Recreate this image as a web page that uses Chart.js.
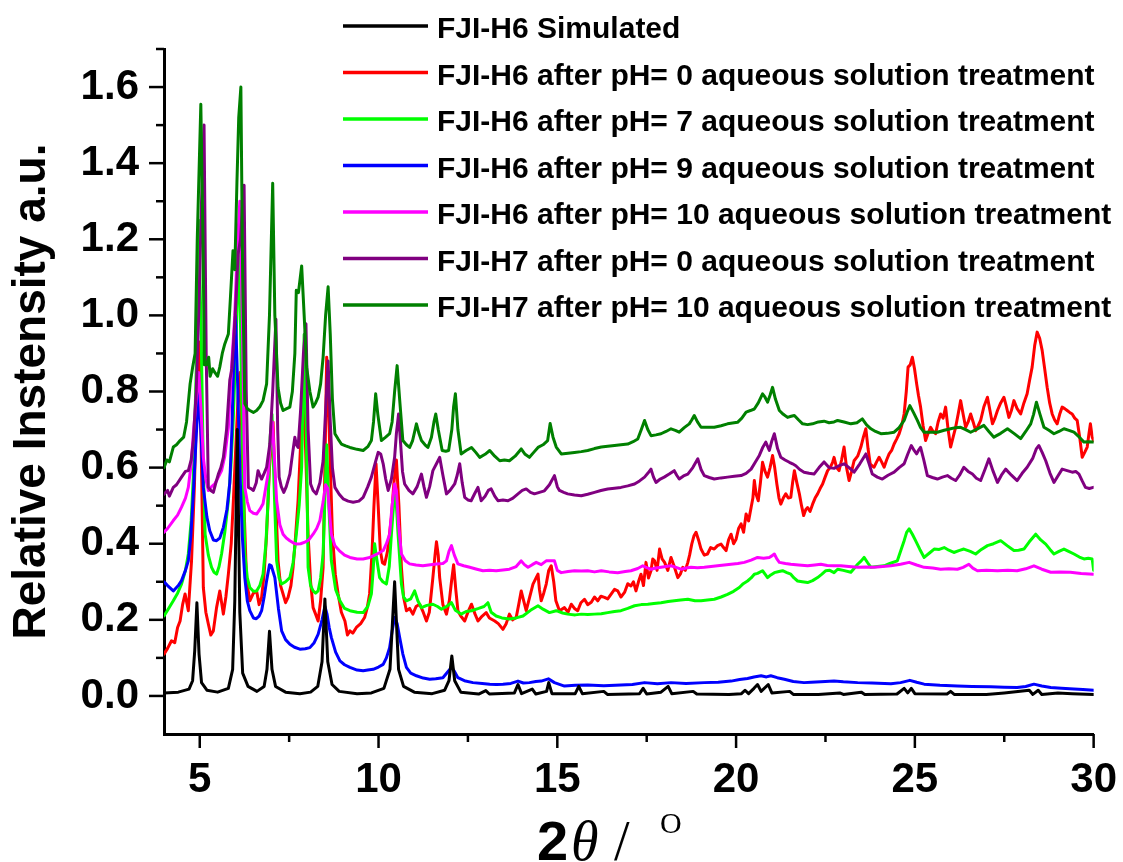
<!DOCTYPE html>
<html><head><meta charset="utf-8">
<script src="https://cdn.jsdelivr.net/npm/chart.js@4/dist/chart.umd.min.js"></script>
<style>html,body{margin:0;padding:0;background:#fff;}#wrap{width:1123px;height:862px;}</style>
</head><body><div id="wrap"><canvas id="c" width="1123" height="862"></canvas></div>
<script>
// ---------- DATA ----------
const seriesLabels = [
  "FJI-H6 Simulated",
  "FJI-H6 after pH= 0 aqueous solution treatment",
  "FJI-H6 after pH= 7 aqueous solution treatment",
  "FJI-H6 after pH= 9 aqueous solution treatment",
  "FJI-H6 after pH= 10 aqueous solution treatment",
  "FJI-H7 after pH= 0 aqueous solution treatment",
  "FJI-H7 after pH= 10 aqueous solution treatment"
];
const xMajorTicks = [5, 10, 15, 20, 25, 30];
const xMinorTicks = [7.5, 12.5, 17.5, 22.5, 27.5];
const yMajorTicks = [0.0, 0.2, 0.4, 0.6, 0.8, 1.0, 1.2, 1.4, 1.6];
const yMinorTicks = [0.1, 0.3, 0.5, 0.7, 0.9, 1.1, 1.3, 1.5, 1.7];

const simulatedH6 = [[4.0,0.008],[4.4,0.01],[4.7,0.018],[4.8,0.04],[4.86,0.12],[4.92,0.245],[4.98,0.11],[5.05,0.035],[5.2,0.015],[5.5,0.01],[5.8,0.02],[5.92,0.07],[5.98,0.25],[6.05,0.7],[6.12,0.22],[6.2,0.06],[6.35,0.025],[6.6,0.012],[6.8,0.025],[6.88,0.07],[6.95,0.17],[7.02,0.07],[7.12,0.025],[7.4,0.01],[7.8,0.006],[8.1,0.01],[8.3,0.025],[8.42,0.09],[8.5,0.255],[8.58,0.09],[8.7,0.03],[8.9,0.012],[9.4,0.006],[9.8,0.008],[10.15,0.02],[10.32,0.07],[10.45,0.3],[10.56,0.07],[10.7,0.025],[11.0,0.01],[11.5,0.006],[11.85,0.015],[11.97,0.04],[12.05,0.105],[12.13,0.04],[12.3,0.01],[12.8,0.005],[13.0,0.014],[13.1,0.005],[13.8,0.008],[13.9,0.03],[14.0,0.006],[14.3,0.018],[14.4,0.005],[14.7,0.012],[14.76,0.035],[14.85,0.006],[15.5,0.006],[15.6,0.025],[15.7,0.006],[16.3,0.012],[16.4,0.004],[17.3,0.006],[17.4,0.02],[17.5,0.005],[17.9,0.01],[18.1,0.025],[18.2,0.006],[18.8,0.012],[18.9,0.005],[19.8,0.004],[20.15,0.006],[20.25,0.015],[20.35,0.006],[20.5,0.02],[20.6,0.03],[20.7,0.012],[20.9,0.03],[21.0,0.008],[21.5,0.012],[21.6,0.004],[22.3,0.004],[22.9,0.008],[23.0,0.004],[23.5,0.01],[23.6,0.004],[24.5,0.005],[24.7,0.02],[24.8,0.008],[24.9,0.02],[25.0,0.006],[25.9,0.005],[26.0,0.012],[26.1,0.004],[27.0,0.004],[27.5,0.008],[28.2,0.015],[28.3,0.004],[28.45,0.015],[28.55,0.004],[29.0,0.008],[29.4,0.006],[30.0,0.004]];

const ph0H6 = [[4.0,0.11],[4.1,0.125],[4.21,0.145],[4.3,0.14],[4.38,0.18],[4.45,0.197],[4.52,0.24],[4.59,0.268],[4.68,0.224],[4.77,0.355],[4.85,0.55],[4.92,0.8],[4.99,0.93],[5.05,0.6],[5.1,0.285],[5.17,0.22],[5.24,0.189],[5.31,0.16],[5.38,0.171],[5.47,0.232],[5.56,0.276],[5.62,0.24],[5.66,0.215],[5.73,0.26],[5.8,0.32],[5.88,0.4],[5.94,0.513],[6.02,0.68],[6.08,0.8],[6.13,0.85],[6.2,0.6],[6.31,0.303],[6.4,0.25],[6.5,0.27],[6.59,0.276],[6.66,0.24],[6.73,0.259],[6.8,0.32],[6.87,0.425],[6.95,0.6],[7.05,0.72],[7.11,0.55],[7.19,0.355],[7.26,0.29],[7.33,0.268],[7.4,0.245],[7.47,0.259],[7.55,0.29],[7.61,0.338],[7.68,0.42],[7.75,0.513],[7.82,0.66],[7.89,0.79],[7.96,0.65],[8.03,0.425],[8.1,0.3],[8.17,0.232],[8.24,0.215],[8.31,0.197],[8.38,0.25],[8.45,0.338],[8.5,0.6],[8.55,0.89],[8.62,0.7],[8.71,0.425],[8.79,0.32],[8.87,0.268],[8.96,0.22],[9.06,0.197],[9.13,0.16],[9.2,0.171],[9.28,0.165],[9.38,0.18],[9.5,0.19],[9.61,0.206],[9.68,0.23],[9.75,0.268],[9.82,0.38],[9.87,0.496],[9.93,0.61],[9.99,0.5],[10.05,0.382],[10.11,0.35],[10.17,0.346],[10.25,0.38],[10.36,0.469],[10.43,0.56],[10.5,0.62],[10.57,0.5],[10.64,0.338],[10.7,0.26],[10.78,0.224],[10.87,0.23],[10.96,0.215],[11.05,0.235],[11.15,0.241],[11.25,0.22],[11.34,0.197],[11.42,0.22],[11.52,0.311],[11.58,0.37],[11.62,0.405],[11.67,0.37],[11.71,0.311],[11.8,0.24],[11.9,0.215],[11.98,0.25],[12.04,0.3],[12.1,0.345],[12.16,0.28],[12.22,0.224],[12.3,0.21],[12.41,0.197],[12.5,0.22],[12.6,0.241],[12.7,0.215],[12.78,0.197],[12.9,0.21],[13.01,0.219],[13.1,0.205],[13.25,0.197],[13.35,0.19],[13.48,0.175],[13.57,0.19],[13.66,0.215],[13.75,0.2],[13.85,0.206],[13.92,0.24],[13.99,0.276],[14.06,0.25],[14.13,0.224],[14.2,0.25],[14.32,0.294],[14.41,0.311],[14.46,0.32],[14.5,0.28],[14.55,0.25],[14.62,0.27],[14.69,0.294],[14.76,0.33],[14.83,0.342],[14.9,0.3],[14.96,0.25],[15.06,0.224],[15.2,0.232],[15.3,0.22],[15.39,0.241],[15.48,0.23],[15.57,0.224],[15.66,0.245],[15.76,0.254],[15.85,0.24],[15.95,0.246],[16.04,0.26],[16.13,0.25],[16.22,0.262],[16.32,0.259],[16.41,0.255],[16.5,0.267],[16.6,0.28],[16.69,0.276],[16.78,0.26],[16.88,0.272],[16.97,0.295],[17.06,0.289],[17.13,0.3],[17.2,0.276],[17.27,0.3],[17.34,0.32],[17.41,0.29],[17.48,0.351],[17.55,0.31],[17.62,0.329],[17.67,0.36],[17.72,0.355],[17.79,0.33],[17.86,0.386],[17.93,0.36],[18.0,0.351],[18.09,0.33],[18.18,0.364],[18.27,0.34],[18.37,0.311],[18.44,0.32],[18.51,0.338],[18.58,0.33],[18.65,0.351],[18.7,0.37],[18.76,0.399],[18.82,0.42],[18.88,0.43],[18.95,0.41],[19.02,0.386],[19.11,0.37],[19.2,0.373],[19.29,0.39],[19.39,0.386],[19.48,0.395],[19.58,0.399],[19.65,0.39],[19.72,0.382],[19.79,0.41],[19.86,0.425],[19.93,0.4],[20.0,0.412],[20.07,0.44],[20.14,0.452],[20.21,0.43],[20.28,0.478],[20.35,0.46],[20.42,0.495],[20.47,0.52],[20.51,0.566],[20.56,0.53],[20.62,0.513],[20.68,0.56],[20.74,0.614],[20.81,0.59],[20.88,0.575],[20.95,0.6],[21.02,0.632],[21.08,0.6],[21.14,0.557],[21.2,0.52],[21.25,0.504],[21.32,0.52],[21.39,0.531],[21.46,0.52],[21.53,0.522],[21.58,0.56],[21.63,0.592],[21.7,0.56],[21.77,0.531],[21.83,0.5],[21.89,0.474],[21.95,0.49],[22.0,0.495],[22.07,0.485],[22.14,0.504],[22.21,0.52],[22.28,0.531],[22.35,0.545],[22.42,0.557],[22.49,0.575],[22.56,0.592],[22.63,0.6],[22.7,0.614],[22.74,0.627],[22.81,0.6],[22.88,0.592],[22.95,0.62],[23.02,0.654],[23.09,0.6],[23.16,0.566],[23.23,0.59],[23.3,0.618],[23.4,0.63],[23.49,0.654],[23.56,0.68],[23.63,0.702],[23.69,0.65],[23.75,0.61],[23.8,0.605],[23.86,0.601],[23.93,0.615],[24.0,0.627],[24.07,0.615],[24.14,0.601],[24.21,0.62],[24.28,0.636],[24.35,0.645],[24.42,0.662],[24.49,0.675],[24.56,0.689],[24.63,0.71],[24.7,0.741],[24.76,0.8],[24.81,0.864],[24.87,0.87],[24.93,0.89],[24.99,0.86],[25.05,0.82],[25.1,0.79],[25.16,0.759],[25.23,0.71],[25.3,0.671],[25.37,0.69],[25.44,0.706],[25.51,0.695],[25.58,0.689],[25.65,0.72],[25.72,0.741],[25.79,0.73],[25.86,0.759],[25.93,0.7],[26.0,0.654],[26.07,0.68],[26.14,0.706],[26.21,0.74],[26.28,0.776],[26.35,0.74],[26.42,0.706],[26.49,0.72],[26.56,0.741],[26.63,0.72],[26.7,0.697],[26.77,0.71],[26.84,0.724],[26.93,0.76],[27.03,0.785],[27.1,0.75],[27.17,0.715],[27.24,0.73],[27.31,0.75],[27.4,0.77],[27.49,0.785],[27.56,0.76],[27.63,0.732],[27.7,0.75],[27.77,0.776],[27.86,0.755],[27.96,0.741],[28.05,0.77],[28.14,0.794],[28.21,0.83],[28.28,0.864],[28.35,0.92],[28.42,0.956],[28.49,0.94],[28.56,0.908],[28.63,0.86],[28.7,0.811],[28.77,0.77],[28.84,0.741],[28.91,0.725],[28.98,0.715],[29.05,0.74],[29.12,0.759],[29.19,0.755],[29.26,0.75],[29.33,0.745],[29.4,0.741],[29.47,0.73],[29.54,0.724],[29.61,0.68],[29.68,0.627],[29.75,0.64],[29.82,0.654],[29.87,0.69],[29.91,0.715],[29.96,0.68],[30.0,0.671]];

const ph7H6 = [[4.0,0.21],[4.1,0.225],[4.26,0.25],[4.38,0.27],[4.49,0.294],[4.6,0.33],[4.68,0.373],[4.76,0.46],[4.82,0.575],[4.9,0.85],[4.97,1.25],[5.04,0.95],[5.1,0.6],[5.15,0.425],[5.24,0.37],[5.33,0.338],[5.4,0.325],[5.47,0.32],[5.54,0.34],[5.61,0.373],[5.7,0.43],[5.8,0.513],[5.87,0.6],[5.94,0.732],[6.02,0.95],[6.1,1.2],[6.17,0.8],[6.26,0.373],[6.33,0.31],[6.4,0.285],[6.5,0.275],[6.59,0.276],[6.68,0.29],[6.77,0.32],[6.85,0.4],[6.91,0.513],[6.97,0.68],[7.02,0.74],[7.08,0.55],[7.15,0.355],[7.22,0.31],[7.29,0.294],[7.4,0.3],[7.52,0.311],[7.61,0.35],[7.7,0.425],[7.78,0.5],[7.85,0.601],[7.92,0.95],[7.98,0.7],[8.03,0.338],[8.1,0.29],[8.17,0.276],[8.24,0.27],[8.31,0.276],[8.38,0.31],[8.45,0.373],[8.5,0.52],[8.55,0.66],[8.61,0.5],[8.68,0.355],[8.8,0.28],[8.92,0.25],[9.05,0.23],[9.2,0.224],[9.4,0.22],[9.57,0.219],[9.7,0.235],[9.8,0.268],[9.85,0.33],[9.89,0.4],[9.95,0.36],[10.03,0.311],[10.12,0.3],[10.22,0.294],[10.3,0.34],[10.36,0.425],[10.42,0.5],[10.48,0.53],[10.55,0.42],[10.64,0.294],[10.7,0.26],[10.78,0.25],[10.9,0.255],[11.01,0.276],[11.1,0.25],[11.2,0.232],[11.35,0.238],[11.52,0.241],[11.65,0.235],[11.76,0.228],[11.9,0.235],[12.04,0.245],[12.15,0.225],[12.31,0.215],[12.45,0.222],[12.6,0.224],[12.8,0.23],[12.95,0.235],[13.06,0.245],[13.15,0.22],[13.29,0.21],[13.45,0.205],[13.66,0.202],[13.85,0.205],[14.04,0.21],[14.25,0.225],[14.46,0.237],[14.6,0.228],[14.78,0.219],[14.97,0.224],[15.15,0.218],[15.29,0.215],[15.5,0.213],[15.67,0.215],[15.85,0.214],[16.04,0.215],[16.23,0.216],[16.41,0.219],[16.6,0.222],[16.78,0.224],[16.97,0.23],[17.16,0.237],[17.35,0.24],[17.53,0.241],[17.7,0.243],[17.9,0.245],[18.1,0.248],[18.27,0.25],[18.45,0.252],[18.65,0.254],[18.85,0.25],[19.02,0.25],[19.2,0.252],[19.39,0.254],[19.58,0.26],[19.76,0.267],[19.93,0.275],[20.09,0.285],[20.2,0.295],[20.32,0.302],[20.42,0.31],[20.51,0.32],[20.6,0.322],[20.74,0.329],[20.81,0.32],[20.88,0.311],[20.97,0.318],[21.07,0.324],[21.2,0.327],[21.3,0.329],[21.42,0.324],[21.53,0.32],[21.62,0.31],[21.72,0.302],[21.85,0.3],[22.0,0.298],[22.14,0.303],[22.28,0.311],[22.4,0.32],[22.51,0.329],[22.62,0.33],[22.74,0.324],[22.84,0.333],[23.0,0.33],[23.21,0.325],[23.3,0.335],[23.4,0.346],[23.5,0.355],[23.58,0.364],[23.68,0.35],[23.77,0.338],[23.95,0.34],[24.14,0.342],[24.3,0.348],[24.51,0.355],[24.6,0.38],[24.7,0.408],[24.77,0.43],[24.84,0.439],[24.93,0.425],[25.02,0.408],[25.14,0.385],[25.26,0.364],[25.4,0.375],[25.54,0.386],[25.68,0.385],[25.82,0.39],[25.95,0.383],[26.09,0.377],[26.23,0.382],[26.37,0.386],[26.55,0.38],[26.7,0.373],[26.86,0.385],[27.03,0.395],[27.2,0.4],[27.4,0.408],[27.58,0.395],[27.77,0.382],[27.9,0.383],[28.05,0.386],[28.2,0.405],[28.38,0.425],[28.52,0.41],[28.66,0.399],[28.78,0.385],[28.89,0.373],[29.03,0.38],[29.17,0.386],[29.3,0.38],[29.45,0.373],[29.6,0.365],[29.73,0.36],[29.85,0.362],[29.96,0.36],[30.0,0.33]];

const ph9H6 = [[4.0,0.3],[4.1,0.29],[4.26,0.276],[4.4,0.29],[4.49,0.303],[4.6,0.33],[4.68,0.355],[4.75,0.42],[4.82,0.531],[4.9,0.68],[4.97,0.8],[5.04,0.68],[5.1,0.548],[5.2,0.47],[5.28,0.434],[5.38,0.41],[5.47,0.408],[5.56,0.415],[5.66,0.443],[5.76,0.49],[5.84,0.56],[5.9,0.7],[5.95,0.88],[6.0,1.0],[6.06,0.82],[6.12,0.6],[6.19,0.42],[6.26,0.311],[6.33,0.25],[6.4,0.224],[6.5,0.205],[6.58,0.203],[6.66,0.21],[6.73,0.224],[6.8,0.26],[6.87,0.303],[6.95,0.345],[7.0,0.342],[7.1,0.311],[7.2,0.23],[7.29,0.171],[7.4,0.148],[7.52,0.136],[7.65,0.128],[7.8,0.123],[7.95,0.124],[8.08,0.127],[8.2,0.14],[8.31,0.162],[8.42,0.2],[8.5,0.235],[8.56,0.215],[8.62,0.18],[8.68,0.154],[8.8,0.115],[8.92,0.092],[9.05,0.082],[9.2,0.075],[9.4,0.068],[9.57,0.066],[9.7,0.068],[9.85,0.07],[10.0,0.076],[10.13,0.083],[10.22,0.1],[10.31,0.127],[10.38,0.17],[10.45,0.206],[10.52,0.19],[10.59,0.154],[10.68,0.11],[10.78,0.075],[10.9,0.06],[11.06,0.053],[11.25,0.047],[11.43,0.044],[11.6,0.045],[11.8,0.048],[11.95,0.065],[12.04,0.075],[12.12,0.065],[12.22,0.048],[12.4,0.04],[12.64,0.035],[12.9,0.033],[13.11,0.031],[13.3,0.03],[13.48,0.031],[13.7,0.033],[13.9,0.039],[14.05,0.034],[14.22,0.035],[14.4,0.038],[14.55,0.039],[14.75,0.045],[14.92,0.035],[15.2,0.026],[15.5,0.028],[15.85,0.029],[16.3,0.027],[16.78,0.029],[17.1,0.03],[17.44,0.035],[17.8,0.032],[18.18,0.035],[18.6,0.033],[19.11,0.035],[19.5,0.036],[19.86,0.039],[20.1,0.043],[20.32,0.046],[20.5,0.05],[20.7,0.053],[20.85,0.05],[20.97,0.053],[21.15,0.048],[21.35,0.044],[21.6,0.038],[21.9,0.035],[22.1,0.036],[22.37,0.037],[22.74,0.039],[23.0,0.037],[23.4,0.035],[23.8,0.034],[24.33,0.032],[24.6,0.035],[24.86,0.041],[25.05,0.036],[25.26,0.031],[25.7,0.028],[26.19,0.026],[26.6,0.025],[27.12,0.024],[27.5,0.023],[27.86,0.022],[28.1,0.025],[28.33,0.031],[28.55,0.026],[28.8,0.022],[29.1,0.02],[29.45,0.018],[29.7,0.017],[30.0,0.015]];

const ph10H6 = [[4.0,0.43],[4.1,0.44],[4.26,0.461],[4.38,0.475],[4.49,0.496],[4.6,0.52],[4.68,0.548],[4.76,0.61],[4.82,0.689],[4.9,0.78],[4.97,0.85],[5.03,0.76],[5.1,0.627],[5.17,0.57],[5.24,0.54],[5.33,0.55],[5.42,0.557],[5.52,0.575],[5.61,0.592],[5.7,0.63],[5.8,0.706],[5.89,0.864],[5.98,1.0],[6.05,1.18],[6.12,1.3],[6.19,1.0],[6.26,0.548],[6.33,0.51],[6.4,0.487],[6.5,0.48],[6.59,0.478],[6.68,0.49],[6.77,0.505],[6.85,0.55],[6.91,0.583],[6.97,0.66],[7.03,0.72],[7.09,0.62],[7.15,0.513],[7.24,0.45],[7.33,0.425],[7.42,0.415],[7.52,0.408],[7.6,0.403],[7.7,0.399],[7.82,0.4],[7.94,0.404],[8.05,0.41],[8.17,0.425],[8.27,0.44],[8.36,0.461],[8.45,0.51],[8.52,0.555],[8.58,0.545],[8.63,0.48],[8.68,0.425],[8.78,0.395],[8.9,0.382],[9.05,0.37],[9.2,0.364],[9.4,0.36],[9.57,0.36],[9.72,0.363],[9.85,0.368],[10.0,0.375],[10.13,0.382],[10.22,0.4],[10.31,0.425],[10.38,0.5],[10.45,0.557],[10.5,0.54],[10.56,0.45],[10.64,0.373],[10.75,0.355],[10.87,0.347],[11.05,0.344],[11.24,0.342],[11.45,0.345],[11.62,0.347],[11.8,0.348],[11.9,0.355],[11.97,0.38],[12.04,0.395],[12.12,0.37],[12.22,0.347],[12.38,0.342],[12.55,0.338],[12.75,0.333],[12.92,0.329],[13.1,0.33],[13.29,0.329],[13.48,0.331],[13.66,0.333],[13.85,0.34],[13.99,0.355],[14.08,0.345],[14.18,0.338],[14.3,0.345],[14.41,0.351],[14.55,0.345],[14.69,0.355],[14.8,0.355],[14.92,0.355],[15.0,0.33],[15.11,0.324],[15.3,0.327],[15.48,0.329],[15.67,0.328],[15.85,0.329],[16.04,0.326],[16.23,0.329],[16.45,0.326],[16.69,0.324],[16.9,0.327],[17.06,0.329],[17.25,0.335],[17.39,0.342],[17.5,0.337],[17.62,0.333],[17.76,0.336],[17.9,0.338],[18.04,0.34],[18.18,0.342],[18.32,0.338],[18.46,0.333],[18.6,0.336],[18.74,0.338],[18.92,0.337],[19.11,0.338],[19.3,0.34],[19.48,0.342],[19.67,0.344],[19.86,0.346],[20.05,0.348],[20.23,0.351],[20.42,0.357],[20.6,0.364],[20.77,0.362],[20.93,0.364],[21.0,0.368],[21.07,0.373],[21.14,0.36],[21.21,0.351],[21.38,0.348],[21.53,0.346],[21.75,0.344],[22.0,0.342],[22.2,0.344],[22.37,0.346],[22.55,0.343],[22.74,0.342],[22.93,0.342],[23.15,0.34],[23.4,0.338],[23.62,0.339],[23.86,0.338],[24.1,0.34],[24.33,0.342],[24.6,0.346],[24.84,0.351],[25.05,0.344],[25.26,0.338],[25.5,0.336],[25.72,0.333],[25.95,0.334],[26.19,0.333],[26.35,0.338],[26.51,0.346],[26.62,0.336],[26.75,0.329],[27.0,0.33],[27.31,0.329],[27.6,0.33],[27.86,0.329],[28.1,0.334],[28.33,0.342],[28.55,0.333],[28.8,0.325],[29.05,0.326],[29.35,0.325],[29.65,0.322],[29.99,0.32]];

const ph0H7 = [[4.0,0.53],[4.1,0.54],[4.15,0.525],[4.26,0.548],[4.35,0.555],[4.49,0.575],[4.6,0.59],[4.68,0.592],[4.76,0.62],[4.82,0.671],[4.9,0.8],[4.97,1.0],[5.05,1.3],[5.12,1.5],[5.18,0.9],[5.24,0.548],[5.31,0.54],[5.38,0.535],[5.45,0.56],[5.52,0.583],[5.59,0.6],[5.66,0.627],[5.75,0.7],[5.84,0.83],[5.9,0.86],[5.96,0.95],[6.02,1.05],[6.07,1.16],[6.14,1.2],[6.19,1.28],[6.24,1.342],[6.3,0.8],[6.36,0.548],[6.43,0.545],[6.5,0.54],[6.58,0.56],[6.63,0.592],[6.68,0.58],[6.73,0.57],[6.8,0.585],[6.87,0.601],[6.96,0.662],[7.04,0.8],[7.13,0.99],[7.18,0.7],[7.22,0.575],[7.28,0.55],[7.35,0.535],[7.42,0.55],[7.52,0.583],[7.6,0.64],[7.66,0.68],[7.7,0.66],[7.75,0.653],[7.82,0.75],[7.9,0.9],[7.97,0.978],[8.03,0.7],[8.1,0.557],[8.17,0.54],[8.26,0.531],[8.36,0.56],[8.45,0.618],[8.52,0.75],[8.59,0.88],[8.65,0.72],[8.71,0.6],[8.78,0.548],[8.9,0.53],[9.01,0.518],[9.15,0.512],[9.29,0.509],[9.45,0.512],[9.57,0.522],[9.7,0.55],[9.8,0.575],[9.9,0.61],[9.99,0.64],[10.06,0.636],[10.13,0.61],[10.2,0.57],[10.27,0.54],[10.36,0.57],[10.45,0.627],[10.5,0.69],[10.56,0.741],[10.62,0.66],[10.67,0.59],[10.73,0.557],[10.85,0.54],[10.96,0.531],[11.08,0.55],[11.2,0.583],[11.27,0.55],[11.34,0.522],[11.43,0.55],[11.52,0.592],[11.62,0.61],[11.71,0.627],[11.8,0.58],[11.9,0.531],[12.0,0.54],[12.13,0.557],[12.2,0.58],[12.27,0.61],[12.34,0.56],[12.41,0.522],[12.5,0.515],[12.59,0.513],[12.68,0.53],[12.78,0.548],[12.87,0.513],[12.98,0.525],[13.07,0.54],[13.15,0.544],[13.25,0.525],[13.34,0.513],[13.48,0.515],[13.62,0.513],[13.76,0.52],[13.9,0.531],[14.02,0.54],[14.13,0.544],[14.25,0.535],[14.36,0.531],[14.5,0.535],[14.64,0.539],[14.78,0.555],[14.92,0.579],[15.0,0.55],[15.06,0.54],[15.18,0.535],[15.29,0.531],[15.48,0.528],[15.67,0.526],[15.85,0.53],[16.04,0.535],[16.22,0.54],[16.41,0.544],[16.6,0.546],[16.78,0.548],[16.97,0.552],[17.16,0.557],[17.3,0.565],[17.44,0.575],[17.53,0.585],[17.62,0.596],[17.69,0.575],[17.76,0.561],[17.88,0.57],[17.99,0.575],[18.13,0.583],[18.27,0.592],[18.34,0.58],[18.41,0.57],[18.53,0.578],[18.65,0.583],[18.79,0.6],[18.93,0.623],[19.02,0.595],[19.11,0.579],[19.25,0.574],[19.39,0.57],[19.58,0.573],[19.76,0.575],[19.95,0.577],[20.14,0.579],[20.28,0.585],[20.42,0.596],[20.54,0.615],[20.65,0.632],[20.74,0.652],[20.83,0.667],[20.93,0.645],[21.0,0.67],[21.07,0.689],[21.16,0.65],[21.25,0.627],[21.37,0.62],[21.49,0.614],[21.58,0.61],[21.67,0.605],[21.78,0.595],[21.9,0.588],[22.04,0.585],[22.18,0.583],[22.32,0.6],[22.46,0.615],[22.6,0.6],[22.74,0.598],[22.88,0.605],[23.02,0.61],[23.16,0.6],[23.3,0.588],[23.46,0.61],[23.63,0.636],[23.72,0.61],[23.81,0.583],[23.95,0.575],[24.09,0.57],[24.25,0.58],[24.42,0.588],[24.56,0.6],[24.7,0.61],[24.8,0.635],[24.9,0.658],[24.98,0.645],[25.05,0.636],[25.1,0.645],[25.16,0.653],[25.25,0.62],[25.35,0.579],[25.49,0.574],[25.63,0.57],[25.77,0.575],[25.91,0.579],[26.02,0.572],[26.14,0.566],[26.25,0.58],[26.37,0.601],[26.49,0.59],[26.61,0.583],[26.72,0.572],[26.84,0.566],[26.96,0.595],[27.07,0.623],[27.19,0.59],[27.31,0.561],[27.42,0.58],[27.54,0.596],[27.7,0.58],[27.86,0.566],[28.0,0.585],[28.14,0.601],[28.3,0.625],[28.4,0.65],[28.47,0.658],[28.56,0.64],[28.66,0.618],[28.78,0.585],[28.89,0.561],[29.0,0.578],[29.12,0.596],[29.26,0.592],[29.4,0.588],[29.5,0.59],[29.59,0.583],[29.68,0.565],[29.77,0.548],[29.88,0.545],[29.99,0.548]];

const ph10H7 = [[4.0,0.6],[4.08,0.62],[4.15,0.615],[4.26,0.654],[4.35,0.66],[4.45,0.671],[4.55,0.68],[4.63,0.72],[4.73,0.82],[4.8,0.863],[4.87,0.9],[4.93,1.2],[5.03,1.555],[5.09,1.2],[5.13,0.87],[5.19,0.87],[5.25,0.89],[5.29,0.84],[5.36,0.86],[5.42,0.85],[5.5,0.84],[5.56,0.864],[5.63,0.9],[5.7,0.925],[5.8,0.951],[5.86,1.05],[5.93,1.17],[5.98,1.12],[6.04,1.35],[6.09,1.52],[6.15,1.6],[6.2,1.1],[6.26,0.768],[6.33,0.755],[6.4,0.75],[6.5,0.745],[6.59,0.75],[6.68,0.76],[6.77,0.776],[6.87,0.82],[6.95,1.0],[7.04,1.347],[7.1,1.0],[7.19,0.81],[7.26,0.77],[7.33,0.75],[7.43,0.755],[7.52,0.759],[7.59,0.8],[7.66,0.9],[7.7,1.066],[7.76,1.06],[7.85,1.13],[7.92,1.0],[7.99,0.864],[8.08,0.8],[8.17,0.759],[8.24,0.77],[8.31,0.785],[8.38,0.82],[8.45,0.89],[8.52,1.0],[8.59,1.075],[8.65,0.95],[8.71,0.78],[8.78,0.689],[8.87,0.675],[8.96,0.662],[9.08,0.657],[9.2,0.653],[9.4,0.648],[9.57,0.645],[9.7,0.655],[9.8,0.671],[9.86,0.72],[9.92,0.794],[9.98,0.74],[10.08,0.671],[10.2,0.68],[10.31,0.689],[10.38,0.72],[10.45,0.8],[10.52,0.868],[10.59,0.78],[10.68,0.671],[10.78,0.66],[10.87,0.653],[10.95,0.67],[11.06,0.715],[11.13,0.69],[11.2,0.671],[11.3,0.66],[11.38,0.653],[11.48,0.68],[11.55,0.72],[11.6,0.741],[11.67,0.7],[11.78,0.645],[11.88,0.643],[11.96,0.645],[12.05,0.7],[12.1,0.76],[12.15,0.794],[12.22,0.7],[12.31,0.636],[12.45,0.645],[12.6,0.653],[12.72,0.64],[12.83,0.627],[12.98,0.635],[13.11,0.645],[13.25,0.63],[13.39,0.618],[13.52,0.62],[13.66,0.618],[13.82,0.63],[13.99,0.649],[14.1,0.635],[14.22,0.627],[14.34,0.64],[14.46,0.653],[14.6,0.66],[14.73,0.671],[14.8,0.716],[14.88,0.68],[14.97,0.654],[15.11,0.636],[15.3,0.638],[15.48,0.64],[15.67,0.642],[15.85,0.645],[16.04,0.65],[16.23,0.654],[16.41,0.656],[16.6,0.658],[16.78,0.66],[16.97,0.662],[17.12,0.668],[17.25,0.675],[17.35,0.7],[17.44,0.724],[17.53,0.7],[17.62,0.684],[17.76,0.686],[17.9,0.689],[18.04,0.695],[18.18,0.702],[18.3,0.698],[18.41,0.693],[18.55,0.705],[18.69,0.715],[18.76,0.725],[18.83,0.737],[18.92,0.72],[19.02,0.706],[19.2,0.706],[19.39,0.706],[19.58,0.71],[19.76,0.715],[19.9,0.717],[20.04,0.719],[20.16,0.73],[20.28,0.746],[20.4,0.75],[20.51,0.754],[20.62,0.77],[20.74,0.794],[20.81,0.785],[20.88,0.772],[20.95,0.79],[21.02,0.811],[21.1,0.78],[21.21,0.75],[21.32,0.74],[21.44,0.732],[21.54,0.735],[21.63,0.737],[21.75,0.725],[21.86,0.715],[22.0,0.713],[22.14,0.715],[22.3,0.72],[22.46,0.722],[22.6,0.718],[22.74,0.72],[22.84,0.724],[23.02,0.72],[23.21,0.715],[23.38,0.718],[23.53,0.728],[23.65,0.712],[23.77,0.702],[23.9,0.695],[24.05,0.689],[24.23,0.69],[24.42,0.693],[24.56,0.705],[24.7,0.724],[24.78,0.745],[24.86,0.763],[24.96,0.745],[25.07,0.724],[25.16,0.705],[25.26,0.693],[25.45,0.693],[25.63,0.693],[25.82,0.698],[26.0,0.702],[26.14,0.705],[26.28,0.706],[26.42,0.7],[26.56,0.693],[26.75,0.702],[26.93,0.711],[27.07,0.695],[27.21,0.68],[27.4,0.69],[27.59,0.702],[27.77,0.69],[27.96,0.676],[28.1,0.695],[28.24,0.715],[28.32,0.74],[28.4,0.772],[28.5,0.74],[28.61,0.706],[28.75,0.698],[28.89,0.689],[29.03,0.695],[29.17,0.702],[29.31,0.698],[29.45,0.693],[29.6,0.68],[29.73,0.667],[29.86,0.668],[29.99,0.667]];

// ---------- STYLE ----------
const seriesData = [simulatedH6, ph0H6, ph7H6, ph9H6, ph10H6, ph0H7, ph10H7];
const seriesColors = ['#000000', '#ff0000', '#00ff00', '#0000ff', '#ff00ff', '#800080', '#008000'];
const drawOrder = [-1, 5, 4, 3, 2, 1, 0];
const SANS = '"Liberation Sans", Arial, Helvetica, sans-serif';
const SERIF = '"Liberation Serif", "Times New Roman", serif';

const decoPlugin = {
  id: 'deco',
  afterDraw(chart) {
    const ctx = chart.ctx;
    const xs = chart.scales.x, ys = chart.scales.y;
    ctx.save();
    // tick marks
    ctx.strokeStyle = '#000'; ctx.lineWidth = 2.5; ctx.lineCap = 'butt';
    const axisY = xs.top, axisX = ys.right;
    xMajorTicks.forEach(v => { const p = xs.getPixelForValue(v); ctx.beginPath(); ctx.moveTo(p, axisY); ctx.lineTo(p, axisY + 14); ctx.stroke(); });
    xMinorTicks.forEach(v => { const p = xs.getPixelForValue(v); ctx.beginPath(); ctx.moveTo(p, axisY); ctx.lineTo(p, axisY + 8); ctx.stroke(); });
    yMajorTicks.forEach(v => { const p = ys.getPixelForValue(v); ctx.beginPath(); ctx.moveTo(axisX, p); ctx.lineTo(axisX - 15, p); ctx.stroke(); });
    yMinorTicks.forEach(v => { const p = ys.getPixelForValue(v); ctx.beginPath(); ctx.moveTo(axisX, p); ctx.lineTo(axisX - 8, p); ctx.stroke(); });

    // y title
    ctx.fillStyle = '#000';
    ctx.save();
    ctx.translate(45, (chart.chartArea.top + chart.chartArea.bottom) / 2);
    ctx.rotate(-Math.PI / 2);
    ctx.font = 'bold 46px ' + SANS;
    ctx.textAlign = 'center'; ctx.textBaseline = 'alphabetic';
    ctx.fillText('Relative Instensity a.u.', 0, 0);
    ctx.restore();

    // x title: 2θ / °
    ctx.textAlign = 'left'; ctx.textBaseline = 'alphabetic';
    ctx.font = 'bold 56px ' + SANS;
    ctx.fillText('2', 537, 860);
    ctx.font = 'italic 56px ' + SERIF;
    ctx.fillText('\u03B8', 571, 860);
    ctx.font = '56px ' + SERIF;
    ctx.fillText('/', 614, 860);
    ctx.font = '30px ' + SERIF;
    ctx.fillText('O', 660, 833);

    // legend
    ctx.font = 'bold 30px ' + SANS;
    for (let i = 0; i < seriesLabels.length; i++) {
      const y = 26 + i * 46.5;
      ctx.strokeStyle = seriesColors[i]; ctx.lineWidth = 3.5;
      ctx.beginPath(); ctx.moveTo(343, y); ctx.lineTo(428, y); ctx.stroke();
      ctx.fillStyle = '#000';
      ctx.fillText(seriesLabels[i], 437, y + 12);
    }
    ctx.restore();
  }
};

const isIn = (arr, v) => arr.some(a => Math.abs(a - v) < 1e-6);

new Chart(document.getElementById('c'), {
  type: 'line',
  data: {
    datasets: seriesData.map((d, i) => ({
      label: seriesLabels[i],
      data: d.map(p => ({ x: p[0], y: p[1] })),
      borderColor: seriesColors[i],
      backgroundColor: seriesColors[i],
      borderWidth: 3,
      pointRadius: 0,
      fill: false,
      tension: 0,
      order: drawOrder[i]
    }))
  },
  options: {
    responsive: false,
    devicePixelRatio: 1,
    animation: false,
    layout: { padding: { left: 0, top: 49, right: 28, bottom: 0 } },
    plugins: { legend: { display: false }, tooltip: { enabled: false }, title: { display: false } },
    elements: { line: { borderJoinStyle: 'round', borderCapStyle: 'round' } },
    scales: {
      x: {
        type: 'linear', min: 4, max: 30,
        afterBuildTicks: s => { s.ticks = xMajorTicks.concat(xMinorTicks).sort((a, b) => a - b).map(v => ({ value: v })); },
        ticks: {
          autoSkip: false, maxRotation: 0, padding: 6, color: '#000',
          font: { family: SANS, weight: 'bold', size: 42 },
          callback: v => isIn(xMajorTicks, v) ? String(v) : ''
        },
        grid: { display: true, drawOnChartArea: false, drawTicks: true, tickLength: 15, tickColor: 'rgba(0,0,0,0)', color: 'rgba(0,0,0,0)' },
        border: { display: true, color: '#000', width: 3 },
        afterFit: s => { s.height = 128; }
      },
      y: {
        type: 'linear', min: -0.1, max: 1.7,
        afterBuildTicks: s => { s.ticks = yMajorTicks.concat(yMinorTicks).sort((a, b) => a - b).map(v => ({ value: v })); },
        ticks: {
          autoSkip: false, padding: 10, color: '#000',
          font: { family: SANS, weight: 'bold', size: 42 },
          callback: v => isIn(yMajorTicks, v) ? v.toFixed(1) : ''
        },
        grid: { display: true, drawOnChartArea: false, drawTicks: true, tickLength: 15, tickColor: 'rgba(0,0,0,0)', color: 'rgba(0,0,0,0)' },
        border: { display: true, color: '#000', width: 3 },
        afterFit: s => { s.width = 164; }
      }
    }
  },
  plugins: [decoPlugin]
});
</script>
</body></html>
